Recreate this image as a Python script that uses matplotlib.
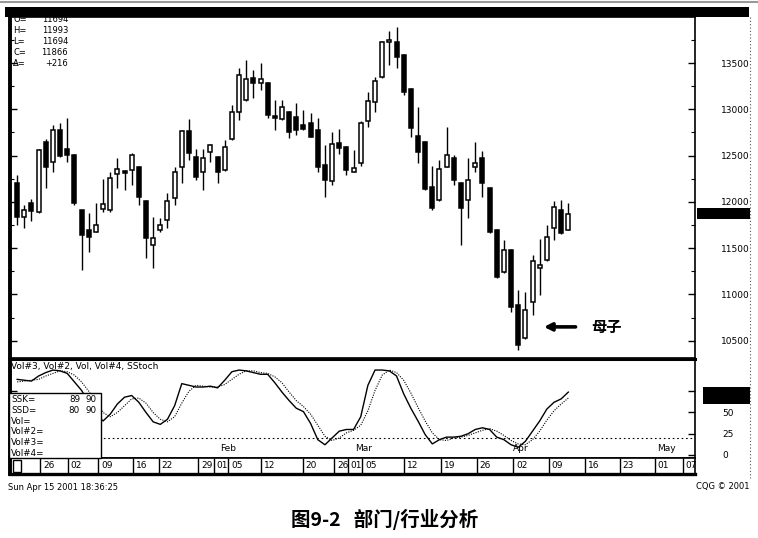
import numpy as np
import matplotlib.pyplot as plt
from matplotlib.patches import Rectangle
from matplotlib.lines import Line2D
from matplotlib.ticker import MultipleLocator

plt.rcParams['font.family'] = ['DejaVu Sans', 'Noto Sans CJK SC']

# ---------------- data (daily bars, Dec 2000 - Apr 2001) ----------------
opens = [12204, 11837, 11988, 11891, 12647, 12431, 12776, 12571, 12506, 11912,
         11696, 11675, 11923, 11912, 12301, 12334, 12344, 12377, 12010, 11534,
         11696, 11804, 12042, 12377, 12766, 12485, 12323, 12539, 12485, 12344,
         12679, 12971, 13100, 13338, 13284, 13284, 12928, 12895, 12971, 12917,
         12830, 12852, 12776, 12398, 12226, 12636, 12593, 12323, 12420, 12874,
         13079, 13349, 13727, 13727, 13586, 13219, 12712, 12647, 12161, 12020,
         12377, 12474, 12204, 12020, 12377, 12474, 12150, 11696, 11243, 11480,
         10886, 10530, 10919, 11286, 11372, 11718, 11912, 11694]
highs = [12290, 11966, 12031, 12571, 12679, 12830, 12852, 12906, 12517, 11912,
         11880, 11988, 12247, 12323, 12474, 12344, 12528, 12388, 12020, 11837,
         11826, 12096, 12377, 12776, 12895, 12571, 12571, 12625, 12496, 12668,
         13046, 13446, 13532, 13424, 13500, 13295, 13100, 13100, 12982, 13068,
         12992, 12960, 12906, 12614, 12755, 12787, 12600, 12560, 12874, 13187,
         13349, 13738, 13846, 13889, 13597, 13230, 13025, 12658, 12388, 12452,
         12809, 12506, 12215, 12474, 12647, 12550, 12161, 11707, 11588, 11490,
         11048, 11027, 11426, 11599, 11750, 12010, 12020, 11993]
lows = [11750, 11718, 11794, 11880, 12150, 12323, 12485, 12431, 11966, 11264,
        11459, 11675, 11891, 11891, 12150, 12128, 12182, 11966, 11394, 11286,
        11675, 11718, 11966, 12204, 12452, 12236, 12128, 12431, 12204, 12334,
        12668, 12884, 13090, 13122, 13208, 12906, 12776, 12884, 12690, 12722,
        12776, 12701, 12323, 12053, 12182, 12517, 12290, 12323, 12388, 12809,
        12971, 13340, 13478, 13446, 13154, 12701, 12420, 12128, 11912, 12010,
        12377, 12182, 11534, 11826, 12323, 12053, 11664, 11180, 11232, 10811,
        10400, 10520, 10778, 10994, 11362, 11588, 11655, 11694]
closes = [11837, 11912, 11902, 12560, 12377, 12776, 12496, 12506, 11988, 11642,
          11621, 11750, 11977, 12258, 12355, 12312, 12506, 12053, 11610, 11610,
          11750, 12010, 12323, 12766, 12528, 12269, 12474, 12614, 12323, 12593,
          12971, 13370, 13327, 13284, 13327, 12938, 12906, 13025, 12755, 12776,
          12787, 12701, 12377, 12236, 12625, 12582, 12344, 12366, 12852, 13090,
          13306, 13727, 13749, 13565, 13187, 12798, 12539, 12139, 11934, 12355,
          12506, 12236, 11934, 12236, 12420, 12204, 11675, 11189, 11480, 10865,
          10454, 10832, 11362, 11318, 11621, 11945, 11664, 11866]

ssk = [89, 88, 87, 93, 97, 100, 99, 96, 86, 76, 62, 48, 40, 48, 60, 68, 70, 62, 50, 39,
       36, 42, 58, 84, 82, 80, 80, 81, 79, 88, 98, 100, 99, 97, 95, 95, 85, 74, 64, 55,
       51, 37, 18, 12, 20, 28, 30, 30, 45, 82, 100, 100, 99, 93, 72, 55, 40, 24, 13, 18,
       21, 21, 22, 25, 30, 32, 30, 21, 18, 12, 9, 16, 28, 40, 54, 62, 66, 74]
ssd = [86, 87, 88, 89, 93, 96, 99, 98, 94, 86, 75, 62, 50, 45, 50, 58, 66, 67, 61, 50,
       42, 39, 45, 61, 75, 82, 81, 80, 80, 83, 89, 95, 99, 99, 97, 96, 92, 85, 74, 64,
       57, 48, 35, 22, 17, 20, 26, 29, 35, 52, 76, 94, 100, 97, 88, 73, 56, 40, 26, 18,
       17, 20, 21, 23, 26, 29, 31, 28, 23, 17, 13, 12, 18, 28, 41, 52, 60, 67]

date_labels = ["26", "02", "09", "16", "22", "29", "01", "05", "12", "20", "26",
               "01", "05", "12", "19", "26", "02", "09", "16", "23", "01", "07"]
date_pos = [3.2, 7.1, 11.3, 16.2, 19.8, 25.3, 27.5, 29.5, 34.1, 39.9, 44.3,
            46.2, 48.2, 54.1, 59.2, 64.2, 69.3, 74.3, 79.3, 84.2, 89.1, 93.0]
month_labels = ["Feb", "Mar", "Apr", "May"]
month_pos = [28.4, 47.2, 69.3, 89.4]

price_ticks = [10500, 11000, 11500, 12000, 12500, 13000, 13500]
stoch_ticks = [0, 25, 50, 75]

W, H = 758, 538
def fx(px):
    return px / W
def fy(py):
    return 1 - py / H

fig = plt.figure(figsize=(W / 100, H / 100), dpi=100)
fig.patch.set_facecolor('white')

XMIN, XMAX = -1.0, 94.7
idx = np.arange(len(opens))

# ---------------- main price panel ----------------
ax = fig.add_axes([fx(10), fy(358), fx(695) - fx(10), fy(17) - fy(358)])
ax.set_xlim(XMIN, XMAX)
ax.set_ylim(10314, 13997)

ax.vlines(idx, lows, highs, color='black', lw=1.0, zorder=2)
for i in idx:
    o, c = opens[i], closes[i]
    up = c >= o
    bottom = min(o, c)
    h = max(abs(c - o), 22)
    ax.add_patch(Rectangle((i - 0.28, bottom), 0.56, h,
                           facecolor='white' if up else 'black',
                           edgecolor='black', lw=1.1, zorder=3))

ax.yaxis.tick_right()
ax.set_yticks(price_ticks)
ax.set_yticklabels([str(t) for t in price_ticks])
ax.yaxis.set_minor_locator(MultipleLocator(250))
ax.tick_params(axis='y', which='major', direction='in', length=5, width=1,
               pad=19, labelsize=6.5, left=True, right=True)
ax.tick_params(axis='y', which='minor', direction='in', length=3, width=0.8,
               left=True, right=True)
ax.set_xticks([])
for s in ['top', 'right', 'bottom']:
    ax.spines[s].set_linewidth(1.2)
ax.spines['left'].set_linewidth(2.8)

# last price readout
labels_ro = ["O=", "H=", "L=", "C=", "\u0394="]
values_ro = ["11694", "11993", "11694", "11866", "+216"]
for k, (lb, vl) in enumerate(zip(labels_ro, values_ro)):
    fig.text(fx(13), fy(20 + k * 10.8), lb, fontsize=6, va='center', ha='left')
    fig.text(fx(68), fy(20 + k * 10.8), vl, fontsize=6, va='center', ha='right')

# arrow to the harami
ax.annotate('', xy=(73.2, 10650), xytext=(78.4, 10650),
            arrowprops=dict(arrowstyle='-|>', lw=2.6, color='black', mutation_scale=11))
ax.text(80.2, 10650, '母子', fontsize=11, va='center', ha='left',
        family=['Noto Sans CJK SC'], fontweight='bold')

# ---------------- stochastic panel ----------------
sx = fig.add_axes([fx(10), fy(458), fx(695) - fx(10), fy(359) - fy(458)])
sx.set_xlim(XMIN, XMAX)
sx.set_ylim(-3.6, 113)
sx.plot(idx, ssd, color='black', lw=0.8, ls=(0, (1, 1.2)))
sx.plot(idx, ssk, color='black', lw=1.0)
sx.axhline(20, color='black', lw=0.8, ls=(0, (1.5, 2.5)))
sx.yaxis.tick_right()
sx.set_yticks(stoch_ticks)
sx.set_yticklabels([str(t) for t in stoch_ticks])
sx.tick_params(axis='y', direction='in', length=5, width=1, pad=20, labelsize=6.5,
               left=True, right=True)
sx.set_xticks([])
for s in ['right', 'bottom', 'left']:
    sx.spines[s].set_linewidth(1.2)
sx.spines['top'].set_linewidth(2.2)
sx.spines['left'].set_linewidth(2.8)
for lb, p in zip(month_labels, month_pos):
    sx.text(p, 2, lb, fontsize=6.5, ha='left', va='bottom')

fig.text(fx(11), fy(366), "Vol#3, Vol#2, Vol, Vol#4, SStoch", fontsize=6.5,
         va='center', ha='left')

# indicator value box
fig.add_artist(Rectangle((fx(9), fy(458)), fx(101) - fx(9), fy(393) - fy(458),
                         transform=fig.transFigure, facecolor='white',
                         edgecolor='black', lw=1.0, zorder=5))
box_names = ["SSK=", "SSD=", "Vol=", "Vol#2=", "Vol#3=", "Vol#4="]
box_vals = [("89", "90"), ("80", "90"), None, None, None, None]
for k, nm in enumerate(box_names):
    yy = fy(400 + k * 10.6)
    fig.text(fx(11), yy, nm, fontsize=6.3, va='center', ha='left', zorder=6)
    if box_vals[k]:
        fig.text(fx(80), yy, box_vals[k][0], fontsize=6.3, va='center', ha='right', zorder=6)
        fig.text(fx(97), yy, box_vals[k][1], fontsize=6.3, va='center', ha='right', zorder=6)

# ---------------- date bar ----------------
dx = fig.add_axes([fx(10), fy(474), fx(695) - fx(10), fy(458) - fy(474)])
dx.set_xlim(XMIN, XMAX)
dx.set_ylim(0, 1)
dx.set_xticks([])
dx.set_yticks([])
for s in dx.spines.values():
    s.set_linewidth(1.2)
dx.spines['bottom'].set_linewidth(2.4)
dx.spines['left'].set_linewidth(2.8)
dx.vlines(date_pos, 0, 1, color='black', lw=1.0)
for lb, p in zip(date_labels, date_pos):
    dx.text(p + 0.4, 0.5, lb, fontsize=6.5, ha='left', va='center')
dx.add_patch(Rectangle((-0.6, 0.1), 1.2, 0.8, facecolor='white', edgecolor='black', lw=1))

# ---------------- frame decorations ----------------
fig.add_artist(Rectangle((fx(5), fy(17)), fx(749) - fx(5), fy(7) - fy(17),
                         transform=fig.transFigure, facecolor='black', edgecolor='none'))
fig.add_artist(Line2D([0, 1], [fy(2), fy(2)], transform=fig.transFigure,
                      color='#999999', lw=1.5))
fig.add_artist(Line2D([fx(750), fx(750)], [fy(17), fy(478)], transform=fig.transFigure,
                      color='#555555', lw=0.8, ls=(0, (1, 2))))
# last-price marker on the price scale
fig.add_artist(Rectangle((fx(697), fy(219)), fx(750) - fx(697), fy(208) - fy(219),
                         transform=fig.transFigure, facecolor='black', edgecolor='none'))
fig.add_artist(Rectangle((fx(703), fy(404)), fx(750) - fx(703), fy(387) - fy(404),
                         transform=fig.transFigure, facecolor='black', edgecolor='none'))

fig.text(fx(8), fy(487), "Sun Apr 15 2001 18:36:25", fontsize=6, va='center', ha='left')
fig.text(fx(749), fy(487), "CQG \u00a9 2001", fontsize=6, va='center', ha='right')

fig.text(fx(385), fy(519), "图9-2   部门/行业分析", fontsize=14, fontweight='bold',
         va='center', ha='center', family=['Noto Sans CJK SC', 'DejaVu Sans'])

fig.savefig("out.png", dpi=100)
